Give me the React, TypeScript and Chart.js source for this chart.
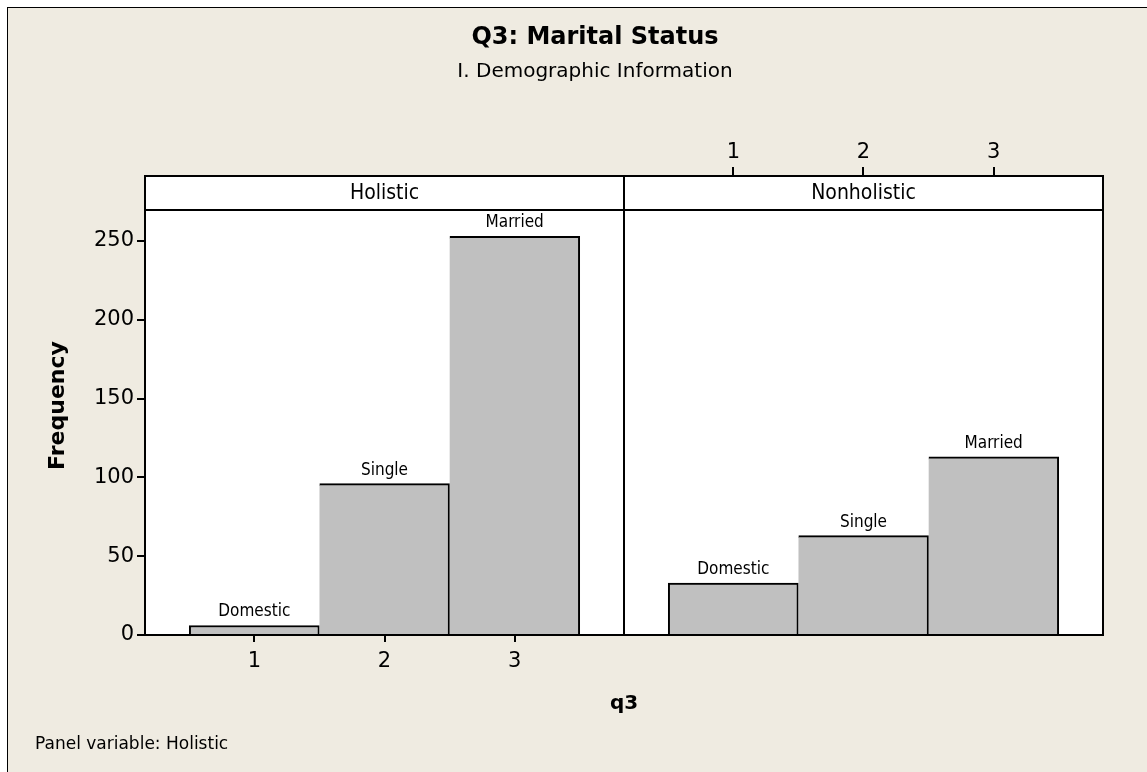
import React, { useEffect, useRef } from "react";
import { Chart, registerables } from "chart.js";

Chart.register(...registerables);

// ---- data ----
const categories = ["Domestic", "Single", "Married"];
const codes = [1, 2, 3];
const panels = ["Holistic", "Nonholistic"];
const holisticValues = [6, 96, 253];
const nonholisticValues = [33, 63, 113];
const yTicks = [0, 50, 100, 150, 200, 250];

const titleText = "Q3: Marital Status";
const subtitleText = "I. Demographic Information";
const xTitle = "q3";
const yTitle = "Frequency";
const footText = "Panel variable: Holistic";

// panel geometry in data units
const X_MIN = 0.16;
const PANEL_SPAN = 3.68;
const Y_MAX = 291.2;

const W = 1139;
const H = 764;
const BG = "#EFEBE1";
const TAHOMA = "'DejaVu Sans', sans-serif";
const NARROW = "'DejaVu Sans Condensed', 'Liberation Sans Narrow', 'Liberation Sans', sans-serif";

const decorPlugin = {
  id: "decor",
  beforeDraw(chart: any) {
    const { ctx, chartArea } = chart;
    ctx.save();
    ctx.fillStyle = "#FFFFFF";
    ctx.fillRect(chartArea.left, chartArea.top, chartArea.right - chartArea.left, chartArea.bottom - chartArea.top);
    ctx.restore();
  },
  afterDraw(chart: any) {
    const { ctx, chartArea } = chart;
    const { left, right, top, bottom } = chartArea;
    const xs = chart.scales.x;
    const divX = xs.getPixelForValue(X_MIN + PANEL_SPAN);
    const stripH = 34;
    ctx.save();
    ctx.strokeStyle = "#000";
    ctx.lineWidth = 2;
    ctx.beginPath();
    ctx.moveTo(left, top + stripH);
    ctx.lineTo(right, top + stripH);
    ctx.moveTo(divX, top);
    ctx.lineTo(divX, bottom);
    ctx.stroke();
    ctx.strokeRect(left, top, right - left, bottom - top);
    // strip labels
    ctx.fillStyle = "#000";
    ctx.font = `21px ${NARROW}`;
    ctx.textAlign = "center";
    ctx.textBaseline = "middle";
    ctx.fillText(panels[0], (left + divX) / 2, top + stripH / 2 + 1);
    ctx.fillText(panels[1], (divX + right) / 2, top + stripH / 2 + 1);
    // bar labels
    ctx.font = `17px ${NARROW}`;
    ctx.textBaseline = "bottom";
    const meta = chart.getDatasetMeta(0);
    meta.data.forEach((bar: any, i: number) => {
      ctx.fillText(categories[i % categories.length], bar.x, bar.y - 5);
    });
    // titles
    ctx.font = `bold 24px ${TAHOMA}`;
    ctx.textBaseline = "middle";
    ctx.fillText(titleText, 587, 30);
    ctx.font = `20px ${TAHOMA}`;
    ctx.fillText(subtitleText, 587, 64);
    ctx.textAlign = "left";
    ctx.font = `17px ${TAHOMA}`;
    ctx.fillText(footText, 27, 737);
    ctx.restore();
  },
};

export default function App() {
  const ref = useRef<HTMLCanvasElement | null>(null);
  useEffect(() => {
    if (!ref.current) return;
    const data: { x: number; y: number }[] = [];
    holisticValues.forEach((v, i) => data.push({ x: codes[i], y: v }));
    nonholisticValues.forEach((v, i) => data.push({ x: codes[i] + PANEL_SPAN, y: v }));
    const chart = new Chart(ref.current, {
      type: "bar",
      data: {
        datasets: [
          {
            data,
            backgroundColor: "#C0C0C0",
            borderColor: "#000",
            borderWidth: (c: any) => ({ top: 2, right: 2, bottom: 0, left: c.dataIndex % 3 === 0 ? 2 : 0 }),
            borderSkipped: false,
            barPercentage: 1,
            categoryPercentage: 1,
            grouped: false,
          } as any,
        ],
      },
      options: {
        responsive: false,
        animation: false,
        devicePixelRatio: 1,
        layout: { padding: { left: 0, right: 44, top: 0, bottom: 0 } },
        plugins: { legend: { display: false }, tooltip: { enabled: false }, title: { display: false } },
        scales: {
          x: {
            type: "linear",
            position: "bottom",
            offset: false,
            min: X_MIN,
            max: X_MIN + 2 * PANEL_SPAN,
            afterBuildTicks: (s: any) => {
              s.ticks = codes.map((c) => ({ value: c }));
            },
            afterFit: (s: any) => {
              s.height = 137;
            },
            ticks: {
              color: "#000",
              font: { family: TAHOMA, size: 21 },
              padding: 7,
              maxRotation: 0,
              autoSkip: false,
              callback: (v: any) => String(v),
            },
            grid: { offset: false, drawOnChartArea: false, drawTicks: true, tickLength: 7, color: "#000", lineWidth: 2 },
            border: { display: true, color: "#000", width: 2 },
            title: {
              display: true,
              text: xTitle,
              color: "#000",
              font: { family: TAHOMA, size: 20, weight: "bold" },
              padding: { top: 0, bottom: 56 },
            },
          },
          x2: {
            type: "linear",
            position: "top",
            offset: false,
            min: X_MIN,
            max: X_MIN + 2 * PANEL_SPAN,
            afterBuildTicks: (s: any) => {
              s.ticks = codes.map((c) => ({ value: c + PANEL_SPAN }));
            },
            afterFit: (s: any) => {
              s.height = 168;
            },
            ticks: {
              color: "#000",
              font: { family: TAHOMA, size: 21 },
              padding: 2,
              maxRotation: 0,
              autoSkip: false,
              callback: (v: any) => String(Math.round((v as number) - PANEL_SPAN)),
            },
            grid: { offset: false, drawOnChartArea: false, drawTicks: true, tickLength: 9, color: "#000", lineWidth: 2 },
            border: { display: true, color: "#000", width: 2 },
          },
          y: {
            type: "linear",
            position: "left",
            min: 0,
            max: Y_MAX,
            afterBuildTicks: (s: any) => {
              s.ticks = yTicks.map((t) => ({ value: t }));
            },
            afterFit: (s: any) => {
              s.width = 137;
            },
            ticks: {
              color: "#000",
              font: { family: TAHOMA, size: 21 },
              padding: 3,
            },
            grid: { drawOnChartArea: false, drawTicks: true, tickLength: 8, color: "#000", lineWidth: 2 },
            border: { display: true, color: "#000", width: 2 },
            title: {
              display: true,
              text: yTitle,
              color: "#000",
              font: { family: TAHOMA, size: 22, weight: "bold" },
              padding: { top: 37, bottom: 0 },
            },
          },
        },
      },
      plugins: [decorPlugin],
    } as any);
    return () => chart.destroy();
  }, []);

  return (
    <div
      style={{
        position: "absolute",
        left: 7,
        top: 7,
        width: W + 1,
        height: H + 1,
        background: BG,
        borderLeft: "1px solid #000",
        borderTop: "1px solid #000",
        boxSizing: "border-box",
        overflow: "hidden",
      }}
    >
      <canvas ref={ref} width={W} height={H} style={{ display: "block" }} />
    </div>
  );
}
